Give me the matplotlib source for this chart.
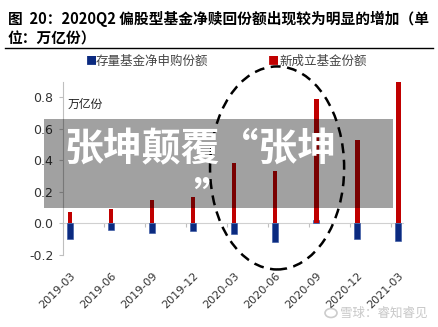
import matplotlib.pyplot as plt
from matplotlib.patches import Ellipse, Rectangle, Circle
import numpy as np

plt.rcParams['font.family'] = ['Noto Sans CJK SC', 'DejaVu Sans']

# 数据（万亿份）
categories = ['2019-03', '2019-06', '2019-09', '2019-12', '2020-03',
              '2020-06', '2020-09', '2020-12', '2021-03']
stock_net = [-0.10, -0.04, -0.06, -0.05, -0.065, -0.12, 0.02, -0.10, -0.11]
new_fund = [0.07, 0.09, 0.15, 0.17, 0.38, 0.33, 0.785, 0.53, 0.90]
yticks = [-0.2, 0.0, 0.2, 0.4, 0.6, 0.8]

blue = '#0b2a80'
red = '#c00000'
axis_gray = '#bfbfbf'

fig = plt.figure(figsize=(4.39, 3.27), dpi=100)
ax = fig.add_axes([63/439, 1-255/327, 340/439, 173/327])

x = np.arange(len(categories)) + 0.17
ax.bar(x, stock_net, width=0.15, color=blue, edgecolor='#3050a0', linewidth=0.4, zorder=3)
ax.bar(x, new_fund, width=0.12, color=red, linewidth=0, zorder=3)

ax.set_xlim(0, 8.29)
ax.set_ylim(-0.2, 0.895)

# y轴
ax.set_yticks(yticks)
ax.set_yticklabels(['%.1f' % v for v in yticks], fontsize=9, color='#333333',
                   family='DejaVu Sans')
ax.tick_params(axis='y', length=3, color=axis_gray, pad=4)
for s in ['top', 'right', 'bottom']:
    ax.spines[s].set_visible(False)
ax.spines['left'].set_color(axis_gray)

# x轴标签（放在底部），刻度线在零线上
ax.set_xticks(x)
ax.set_xticklabels(categories, rotation=45, ha='right', rotation_mode='anchor',
                   fontsize=8, color='#333333', family='DejaVu Sans')
ax.tick_params(axis='x', length=0, pad=11)

zero_pos = 0.2 / 1.095
sec = ax.secondary_xaxis(zero_pos)
sec.set_xticks(np.arange(len(categories)))
sec.set_xticklabels([])
sec.tick_params(length=3, color=axis_gray)
sec.spines['bottom'].set_color('#d0d0d0')

ax.text(0.012, 0.87, '万亿份', transform=ax.transAxes, fontsize=8.5,
        color='#222222', va='center')

# 虚线椭圆
ell = Ellipse((5.22, 0.351), 3.27, 1.285, fill=False, edgecolor='black',
              linewidth=1.8, linestyle=(0, (4, 2.6)), clip_on=False, zorder=4)
ax.add_patch(ell)

# 图例
fig.text(86/439, 1-61/327, '■', color=blue, fontsize=8, va='center')
fig.text(96/439, 1-61/327, '存量基金净申购份额', color='#444444', fontsize=9, va='center')
fig.text(268/439, 1-61/327, '■', color=red, fontsize=8, va='center')
fig.text(279/439, 1-61/327, '新成立基金份额', color='#444444', fontsize=9, va='center')

# 标题
fig.text(8/439, 1-19/327, '图  20：2020Q2 偏股型基金净赎回份额出现较为明显的增加（单',
         fontsize=10.6, fontweight='bold', va='center', color='black')
fig.text(8/439, 1-39/327, '位：万亿份）', fontsize=10.6, fontweight='bold',
         va='center', color='black')
fig.add_artist(plt.Line2D([5/439, 433/439], [1-48/327, 1-48/327], color='black',
                          linewidth=1.0))

# 灰色遮罩与文字
fig.add_artist(Rectangle((44/439, 1-208/327), 349/439, 89/327, transform=fig.transFigure,
                         facecolor='black', alpha=0.37, linewidth=0, zorder=5))
fig.text(200/439, 1-150/327, '张坤颠覆“张坤', color='white', fontsize=28,
         fontweight='bold', ha='center', va='center', zorder=6)
fig.text(212/439, 1-198/327, '”', color='white', fontsize=28,
         fontweight='bold', ha='center', va='center', zorder=6)

# 水印
fig.add_artist(Circle((331/439, 1-313/327), 6/439, transform=fig.transFigure,
                      fill=False, edgecolor='#cccccc', linewidth=1.2))
fig.text(340/439, 1-313/327, '雪球：睿知睿见', color='#c8c8c8', fontsize=9, va='center')

fig.savefig('out.png', dpi=100)
